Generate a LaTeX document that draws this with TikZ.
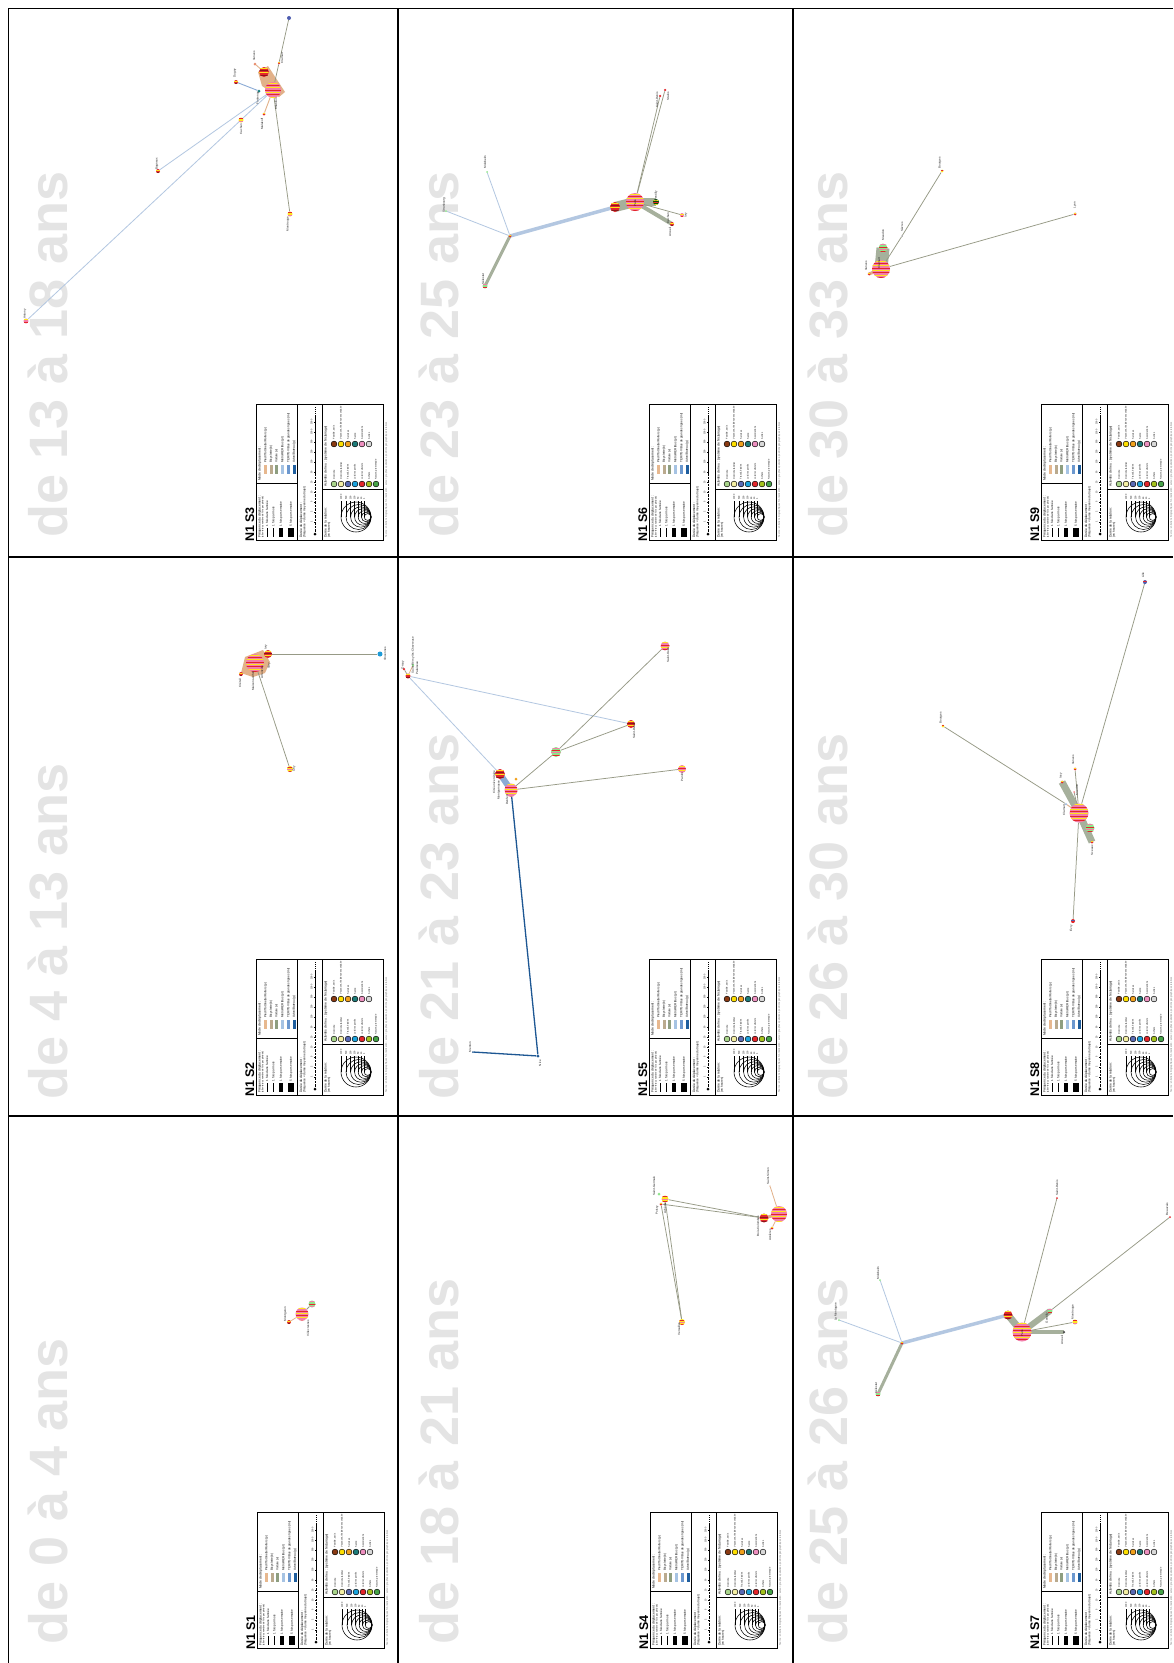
\documentclass[tikz,border=0pt]{standalone}
\usepackage{fontspec}
\setmainfont{Liberation Sans}
\usetikzlibrary{calc}
\pgfdeclarelayer{bg}
\pgfdeclarelayer{edges}
\pgfsetlayers{bg,edges,main}
\definecolor{ttl}{HTML}{E4E4E4}
\definecolor{npink}{HTML}{F27EA9}
\definecolor{nyellow}{HTML}{FFE61C}
\definecolor{nred}{HTML}{E3262B}
\definecolor{ngreen}{HTML}{8EE58B}
\definecolor{ncyan}{HTML}{1E9BD7}
\definecolor{nblue}{HTML}{4E5DB0}
\definecolor{nteal}{HTML}{1B8080}
\definecolor{eg}{HTML}{979A86}
\definecolor{ebandc}{HTML}{A6B09C}
\definecolor{eblue}{HTML}{B3C7E1}
\definecolor{eblue2}{HTML}{8AAAD5}
\definecolor{etan}{HTML}{E2B189}
\definecolor{edark}{HTML}{1D5793}
\definecolor{mA}{HTML}{E7B88F}
\definecolor{mB}{HTML}{BAAA8E}
\definecolor{mC}{HTML}{8E9E80}
\definecolor{mD}{HTML}{A6C3E3}
\definecolor{mE}{HTML}{6C98CF}
\definecolor{mF}{HTML}{1F5E9E}
\definecolor{aA}{HTML}{A9D58B}
\definecolor{aB}{HTML}{F4EFA3}
\definecolor{aC}{HTML}{5A6AB4}
\definecolor{aD}{HTML}{1BA3DC}
\definecolor{aE}{HTML}{E3262B}
\definecolor{aF}{HTML}{A4C21D}
\definecolor{aG}{HTML}{45A247}
\definecolor{bA}{HTML}{8A3A13}
\definecolor{bB}{HTML}{FFE000}
\definecolor{bC}{HTML}{F2A11C}
\definecolor{bD}{HTML}{1E7C79}
\definecolor{bE}{HTML}{EE90C0}
\definecolor{bF}{HTML}{D9D9D9}
\tikzset{
  snode/.style n args={4}{circle, inner sep=0pt, minimum size=#1, fill=#2,
    path picture={%
      \foreach \k in {0,...,9}{%
        \ifodd\k\relax\def\scol{#4}\else\def\scol{#3}\fi
        \fill[\scol] ([yshift=-\k*2.3pt-0.7pt]path picture bounding box.north west) rectangle ([yshift=-\k*2.3pt-1.6pt]path picture bounding box.north east);
      }}},
  big/.style={snode={#1}{npink}{nyellow}{nred}},
  rnode/.style={snode={#1}{nred}{nyellow}{nred!60!black}},
  gnode/.style={snode={#1}{ngreen}{npink}{nred}},
  ynode/.style={snode={#1}{nyellow}{nred}{npink}},
  dot/.style={circle, inner sep=0pt, minimum size=#1},
  ethin/.style={draw=eg, line width=0.75pt},
  elb/.style={draw=eblue, line width=0.8pt},
  eband/.style={draw=ebandc, line width=#1},
  eorange/.style={draw=etan, line width=#1},
  nlab/.style={rotate=90, inner sep=0pt, text=black!85, font=\fontsize{3}{3.5}\selectfont},
  ttlstyle/.style={rotate=90, inner sep=0pt, anchor=base west, text=ttl, font=\fontsize{54}{54}\selectfont\bfseries},
  gridl/.style={line width=1.8pt, black},
  lgl/.style={line width=0.8pt, black},
  nid/.style={rotate=90, inner sep=0pt, font=\fontsize{12.5}{13}\selectfont\bfseries},
  lth/.style={rotate=90, inner sep=0pt, font=\fontsize{3.3}{3.6}\selectfont},
  lt/.style={rotate=90, inner sep=0pt, font=\fontsize{3}{3.4}\selectfont},
  lts/.style={rotate=90, inner sep=0pt, font=\fontsize{2.3}{2.6}\selectfont},
}
\newcommand\legendbox[4]{%
\begin{scope}[shift={(#1,#2)}]
\draw[lgl] (0,0) rectangle (127.5,136);
\draw[lgl] (41,0) -- (41,136) (66,0) -- (66,136) (0,79) -- (41,79) (66,85) -- (127.5,85);
\node[nid, anchor=base west] (#4) at (-1.8,138) {#3};
% frequence
\node[lth, anchor=north west] (#4f) at (2,134) {Fréquence du déplacement :};
\node[lts, anchor=north west] (#4fb) at (5.6,134) {(aller-retour, nombre de fois par période)};
\fill (10.7,124) rectangle (11.3,133);
\fill (16.7,124) rectangle (18.3,133);
\fill (23.3,124) rectangle (26.7,133);
\fill (32.2,124) rectangle (37.8,133);
\node[lt, anchor=west] (#4f1) at (11,122.5) {1 fois dans l'année};
\node[lt, anchor=west] (#4f2) at (17.5,122.5) {1 fois par mois};
\node[lt, anchor=west] (#4f3) at (25,122.5) {1 fois par semaine};
\node[lt, anchor=west] (#4f4) at (35,122.5) {5 fois par semaine};
% mode
\node[lth, anchor=north west] (#4m) at (2,77) {Mode de déplacement :};
\fill[mA] (8,61) rectangle (11,70);
\fill[mB] (13.5,61) rectangle (16.5,70);
\fill[mC] (19,61) rectangle (22,70);
\fill[mD] (25,61) rectangle (28,70);
\fill[mE] (31,61) rectangle (34,70);
\fill[mF] (36.5,61) rectangle (39.5,70);
\node[lt, anchor=west] (#4m1) at (9.5,59) {Pied/Trottinette/Rollers (p)};
\node[lt, anchor=west] (#4m2) at (15,59) {Bicyclette (b)};
\node[lt, anchor=west] (#4m3) at (20.5,59) {Voiture (v)};
\node[lt, anchor=west] (#4m4) at (26.5,59) {Métro/RER/Bus (pt)};
\node[lt, anchor=west] (#4m5) at (32.5,59) {TER/TGV/Bus de grandes lignes (mt)};
\node[lt, anchor=west] (#4m6) at (38,59) {Avion/Bateau (g)};
% duree du deplacement
\node[lth, anchor=north west] (#4d) at (43.5,134) {Durée du déplacement :};
\node[lt, anchor=north west] (#4db) at (47,134) {(fréquence × durée moyenne du trajet)};
\draw[line width=1pt, dash pattern=on 0.6pt off 0.8pt] (59,128) -- (59,66);
\draw[line width=0.5pt] (59,66) -- (59,12);
\draw[line width=0.8pt, dash pattern=on 0.6pt off 1.6pt] (59,12) -- (59,3);
\fill (59,130) circle (1.5);
\foreach \yy/\v in {118/1,108/2,98/5,88/10,78/20,68/50,58/100,48/200,38/500,28/1000,18/2000}{%
  \draw[line width=0.3pt] (58,\yy) -- (60,\yy);
  \node[lts] at (55.5,\yy) {\v};}
% activites
\node[lth, anchor=north west] (#4a) at (68,83) {Activités de lieu : (système de l'éclairage)};
\foreach \i/\c in {0/aA,1/aB,2/aC,3/aD,4/aE,5/aF,6/aG}
  \filldraw[fill=\c, draw=black, line width=0.5pt] (78+7*\i,80) circle (2.9);
\foreach \i/\c in {0/bA,1/bB,2/bC,3/bD,4/bE,5/bF}
  \filldraw[fill=\c, draw=black, line width=0.5pt] (78+7*\i,40) circle (2.9);
\foreach \i/\t in {0/{Domicile},1/{Domicile familial},2/{Travail, études},3/{Loisirs sportifs},4/{Loisirs culturels},5/{Achats},6/{Nature, promenade}}
  \node[lts, anchor=west] at (78+7*\i,75.5) {\t};
\foreach \i/\t in {0/{Famille, amis},1/{Vacances, résidence secondaire},2/{Services},3/{Santé},4/{Associations},5/{Autres}}
  \node[lts, anchor=west] at (78+7*\i,35.5) {\t};
% duree de la relation
\node[lth, anchor=north west] (#4r) at (68,134) {Durée de la relation :};
\node[lt, anchor=north west] (#4rb) at (71.5,134) {(en heures)};
\foreach \r/\v in {15/1000,12.5/500,10.2/200,8.2/100,6.4/50,4.8/10,3.4/1}{%
  \draw[line width=0.55pt] (115-\r,113) circle (\r);
  \draw[line width=0.35pt] (115-2*\r,113) -- (115-2*\r,97);
  \node[lts, anchor=west] at (115-2*\r,96) {\v};}
% note
\node[lts, anchor=north west, text=black!60] (#4n) at (129,134) {Source : entretiens biographiques N1, réalisation : auteur ; graphes spatialisés, positions géographiques relatives};
\end{scope}}
\begin{document}
\begin{tikzpicture}[x=1pt,y=-1pt]
\useasboundingbox (0,0) rectangle (1173,1663);
% ---------------- titles
\begin{pgfonlayer}{bg}
\fill[white] (0,0) rectangle (1173,1663);
\node[ttlstyle] (t1) at (67.5,1645) {de 0 à 4 ans};
\node[ttlstyle] (t2) at (67.5,1100) {de 4 à 13 ans};
\node[ttlstyle] (t3) at (67.5,538) {de 13 à 18 ans};
\node[ttlstyle] (t4) at (458,1645) {de 18 à 21 ans};
\node[ttlstyle] (t5) at (458,1100) {de 21 à 23 ans};
\node[ttlstyle] (t6) at (458,538) {de 23 à 25 ans};
\node[ttlstyle] (t7) at (847,1645) {de 25 à 26 ans};
\node[ttlstyle] (t8) at (847,1100) {de 26 à 30 ans};
\node[ttlstyle] (t9) at (847,538) {de 30 à 33 ans};
\end{pgfonlayer}
% ---------------- legends
\legendbox{257}{1512}{N1 S1}{L1}
\legendbox{256}{959}{N1 S2}{L2}
\legendbox{256}{404}{N1 S3}{L3}
\legendbox{650}{1512}{N1 S4}{L4}
\legendbox{649}{959}{N1 S5}{L5}
\legendbox{649}{404}{N1 S6}{L6}
\legendbox{1041}{1512}{N1 S7}{L7}
\legendbox{1041}{959}{N1 S8}{L8}
\legendbox{1041}{404}{N1 S9}{L9}
% ================= S1
\node[big=13] (s1big) at (302,1314) {};
\node[rnode=4] (s1a) at (289,1322) {};
\node[gnode=7] (s1g) at (312,1304) {};
\node[nlab] (s1la) at (285.5,1314) {Montgeron};
\node[nlab] (s1lb) at (308,1328) {Villecresnes};
\begin{pgfonlayer}{edges}
\draw[eorange=0.7pt] (s1a) -- (s1big);
\draw[ethin] (s1big) -- (s1g);
\end{pgfonlayer}
% ================= S2
\node[big=18] (s2big) at (255,663) {};
\node[rnode=8] (s2r) at (268,654) {};
\node[rnode=4] (s2s) at (241,674) {};
\node[dot=5, fill=ncyan] (s2c) at (380,654) {};
\node[ynode=6] (s2b) at (290,769) {};
\node[nlab] (s2l1) at (240,683) {Créteil};
\node[nlab] (s2l2) at (253,681) {Maisons-Alfort};
\node[nlab] (s2l3) at (262,672) {Alfortville};
\node[nlab] (s2l4) at (269,666) {Vitry};
\node[nlab] (s2l5) at (266,647) {Ivry};
\node[nlab] (s2l6) at (385,654) {Vincennes};
\node[nlab] (s2l7) at (294,769) {Orly};
\begin{pgfonlayer}{edges}
\fill[etan] (241,673) -- (245,657) -- (263,650) -- (270,662) -- (265,673) -- (253,677) -- cycle;
\draw[ethin] (s2r) -- (s2c);
\draw[ethin] (s2big) -- (s2b);
\end{pgfonlayer}
% ================= S3
\node[big=16] (s3big) at (273,90) {};
\node[rnode=10] (s3r) at (264,72) {};
\node[dot=3, fill=nteal] (s3t) at (259,91) {};
\node[rnode=4] (s3d) at (236,82) {};
\node[dot=3, fill=etan!80!red] (s3v) at (255,64) {};
\node[rnode=3] (s3k) at (264,114) {};
\node[ynode=5] (s3c) at (241,120) {};
\node[ynode=5] (s3m) at (290,214) {};
\node[dot=4, fill=nblue] (s3p) at (289,18) {};
\node[rnode=4] (s3q) at (158,171) {};
\node[big=5] (s3f) at (26,321) {};
\node[rnode=2.5] (s3x) at (279,63) {};
\node[nlab] (s3l1) at (235,73) {Dugny};
\node[nlab] (s3l2) at (254,56) {Vanves};
\node[nlab] (s3l3) at (262,124) {Malakoff};
\node[nlab] (s3l4) at (241,129) {Cachan};
\node[nlab] (s3l5) at (288,224) {Montrouge};
\node[nlab] (s3l6) at (157,164) {Bagneux};
\node[nlab] (s3l7) at (25,314) {Antony};
\node[nlab] (s3l8) at (276,104) {Châtillon};
\node[nlab] (s3l9) at (258,98) {Fontenay};
\node[nlab] (s3l10) at (282,58) {Clamart};
\begin{pgfonlayer}{edges}
\fill[etan] (258,72) -- (268,66) -- (285,92) -- (279,97) -- (262,86) -- cycle;
\draw[ethin] (s3p) -- (s3x);
\draw[ethin] (s3x) -- (s3big);
\draw[ethin] (s3big) -- (s3m);
\draw[eblue2, line width=0.9pt] (s3d) -- (s3t);
\draw[eorange=0.9pt] (s3v) -- (s3r);
\draw[eorange=0.9pt] (s3big) -- (s3k);
\draw[elb] (s3big) -- (s3q);
\draw[elb] (s3big) -- (s3f);
\end{pgfonlayer}
% ================= S4
\node[ynode=7] (s4a) at (665,1199) {};
\node[dot=3, fill=ngreen] (s4g) at (659,1194) {};
\node[rnode=3] (s4s) at (661,1204) {};
\node[big=16] (s4big) at (779,1214) {};
\node[rnode=9] (s4r) at (764,1218) {};
\node[rnode=3] (s4k) at (772,1228) {};
\node[ynode=6] (s4b) at (682,1322) {};
\node[dot=1.5, fill=etan] (s4t) at (770,1186) {};
\node[nlab] (s4l1) at (654,1186) {Saint-Germain};
\node[nlab] (s4l2) at (657,1210) {Poissy};
\node[nlab] (s4l3) at (665,1208) {Achères};
\node[nlab] (s4l4) at (768,1176) {Saint-Simon};
\node[nlab] (s4l5) at (758,1226) {Bois-Colombes};
\node[nlab] (s4l6) at (770,1235) {Asnières};
\node[nlab] (s4l7) at (679,1329) {Versailles};
\begin{pgfonlayer}{edges}
\draw[ethin] (s4a) -- (s4r);
\draw[ethin] (s4s) -- (s4r);
\draw[ethin] (s4a) -- (s4b);
\draw[ethin] (s4s) -- (s4b);
\draw[eorange=3pt] (s4r.center) -- (s4big.center);
\draw[eorange=0.8pt] (s4t) -- (s4big);
\draw[eorange=0.8pt] (s4k) -- (s4big);
\end{pgfonlayer}
% ================= S5
\node[rnode=5] (s5o) at (408,676) {};
\node[dot=2.5, fill=nred] (s5o1) at (404,669) {};
\node[dot=2.5, fill=ngreen] (s5o2) at (413,665) {};
\node[rnode=10] (s5r) at (500,774) {};
\node[big=13] (s5big) at (511,790) {};
\node[dot=3, fill=bC] (s5o3) at (516,779) {};
\node[gnode=10] (s5g) at (556,752) {};
\node[rnode=8] (s5c) at (631,724) {};
\node[big=9] (s5t) at (665,646) {};
\node[big=8] (s5p) at (682,769) {};
\node[dot=3, fill=edark] (s5b) at (538,1056) {};
\node[dot=2, fill=edark] (s5l) at (473,1052) {};
\node[nlab] (s5l1) at (403,665) {Orsay};
\node[nlab] (s5l2) at (413,655) {Saint-Rémy-lès-Chevreuse};
\node[nlab] (s5l3) at (417,668) {Palaiseau};
\node[nlab] (s5l4) at (494,782) {Cité universitaire};
\node[nlab] (s5l5) at (499,790) {Montparnasse};
\node[nlab] (s5l6) at (507,800) {Denfert};
\node[nlab] (s5l7) at (634,731) {Saint-Denis};
\node[nlab] (s5l8) at (668,655) {Saint-Ouen};
\node[nlab] (s5l9) at (682,777) {Pantin};
\node[nlab] (s5l10) at (540,1063) {Nice};
\node[nlab] (s5l11) at (470,1047) {Menton};
\begin{pgfonlayer}{edges}
\draw[eorange=0.8pt] (s5o) -- (s5o2);
\draw[ethin] (s5o) -- (s5o1);
\draw[elb] (s5o) -- (s5r);
\draw[elb] (s5o) -- (s5c);
\draw[draw=eblue2, line width=6pt] (s5r.center) -- (s5big.center);
\draw[ethin] (s5big) -- (s5g);
\draw[ethin] (s5g) -- (s5t);
\draw[ethin] (s5g) -- (s5c);
\draw[ethin] (s5big) -- (s5p);
\draw[draw=edark, line width=1.3pt] (s5big) -- (s5b);
\draw[draw=edark, line width=1.3pt] (s5b) -- (s5l);
\end{pgfonlayer}
% ================= S6
\node[rnode=3] (s6h) at (510,236) {};
\node[dot=2, fill=ngreen] (s6w) at (446,211) {};
\node[dot=2, fill=ngreen] (s6n) at (487,172) {};
\node[gnode=5] (s6g) at (485,286) {};
\node[rnode=10] (s6r) at (615,207) {};
\node[big=18] (s6big) at (635,202) {};
\node[snode={6}{black!70!green}{nyellow}{nred}] (s6c) at (656,202) {};
\node[rnode=4] (s6k) at (672,224) {};
\node[big=4] (s6p) at (682,215) {};
\node[dot=2.5, fill=nred] (s6u1) at (660,96) {};
\node[dot=2.5, fill=nred] (s6u2) at (665,90) {};
\node[nlab] (s6l1) at (444,205) {Strasbourg};
\node[nlab] (s6l2) at (485,162) {Molsheim};
\node[nlab] (s6l3) at (483,279) {Sélestat};
\node[nlab] (s6l4) at (635,203) {Paris};
\node[nlab] (s6l5) at (656,196) {Gentilly};
\node[nlab] (s6l6) at (668,218) {Cachan};
\node[nlab] (s6l7) at (670,232) {Arcueil};
\node[nlab] (s6l8) at (686,215) {Ivry};
\node[nlab] (s6l9) at (657,100) {Saint-Denis};
\node[nlab] (s6l10) at (668,96) {Stains};
\begin{pgfonlayer}{edges}
\draw[draw=eblue, line width=3.5pt] (s6h.center) -- (s6r.center);
\draw[elb] (s6h) -- (s6w);
\draw[elb] (s6h) -- (s6n);
\draw[eband=3pt] (s6h.center) -- (s6g.center);
\draw[eband=10pt] (s6r.center) -- (s6big.center);
\draw[eband=8pt] (s6big.center) -- (s6c.center);
\draw[eband=4pt] (s6big.center) -- (s6k.center);
\draw[ethin] (s6big) -- (s6p);
\draw[ethin] (s6big) -- (s6u1);
\draw[ethin] (s6big) -- (s6u2);
\end{pgfonlayer}
% ================= S7
\node[rnode=3] (s7h) at (902,1343) {};
\node[dot=2, fill=ngreen] (s7w) at (839,1320) {};
\node[dot=2, fill=ngreen] (s7n) at (880,1280) {};
\node[gnode=5] (s7g) at (878,1394) {};
\node[rnode=9] (s7r) at (1008,1315) {};
\node[big=19] (s7big) at (1022,1332) {};
\node[gnode=5] (s7c) at (1050,1311) {};
\node[ynode=5] (s7p) at (1075,1322) {};
\node[dot=2.5, fill=black!70] (s7k) at (1064,1332) {};
\node[dot=2, fill=nred] (s7u) at (1057,1198) {};
\node[dot=2, fill=nred] (s7e) at (1170,1217) {};
\node[nlab] (s7l1) at (836,1312) {La Montagne};
\node[nlab] (s7l2) at (878,1273) {Molsheim};
\node[nlab] (s7l3) at (876,1388) {Sélestat};
\node[nlab] (s7l4) at (1022,1333) {Paris};
\node[nlab] (s7l5) at (1047,1318) {Gentilly};
\node[nlab] (s7l6) at (1062,1340) {Arcueil};
\node[nlab] (s7l7) at (1073,1312) {Montrouge};
\node[nlab] (s7l8) at (1057,1188) {Saint-Denis};
\node[nlab] (s7l9) at (1167,1209) {Beauvais};
\begin{pgfonlayer}{edges}
\draw[draw=eblue, line width=3.5pt] (s7h.center) -- (s7r.center);
\draw[elb] (s7h) -- (s7w);
\draw[elb] (s7h) -- (s7n);
\draw[eband=3pt] (s7h.center) -- (s7g.center);
\draw[eband=7pt] (s7r.center) -- (s7big.center);
\draw[eband=6pt] (s7big.center) -- (s7c.center);
\draw[eband=3.5pt] (s7big.center) -- (s7k.center);
\draw[ethin] (s7big) -- (s7p);
\draw[ethin] (s7big) -- (s7u);
\draw[ethin] (s7c) -- (s7e);
\end{pgfonlayer}
% ================= S8
\node[big=19] (s8big) at (1079,813) {};
\node[gnode=9] (s8r) at (1090,828) {};
\node[rnode=3] (s8d) at (1092,842) {};
\node[snode={4}{nblue}{nred}{nblue}] (s8t) at (1145,582) {};
\node[ynode=3] (s8l) at (943,726) {};
\node[rnode=3] (s8a) at (1075,769) {};
\node[rnode=3] (s8b) at (1062,782) {};
\node[snode={4}{nred}{nblue}{nred}] (s8e) at (1073,921) {};
\node[dot=2, fill=eblue2] (s8o) at (1066,804) {};
\node[dot=1.5, fill=nred] (s8f) at (1074,792) {};
\node[nlab] (s8l1) at (941,718) {Bourges};
\node[nlab] (s8l2) at (1073,760) {Vanves};
\node[nlab] (s8l3) at (1061,776) {Issy};
\node[nlab] (s8l4) at (1064,810) {Clamart};
\node[nlab] (s8l5) at (1077,790) {Meudon};
\node[nlab] (s8l6) at (1092,850) {Sceaux};
\node[nlab] (s8l7) at (1071,928) {Évry};
\node[nlab] (s8l8) at (1143,575) {Lille};
\begin{pgfonlayer}{edges}
\draw[eband=7pt] (s8b.center) -- (s8big.center);
\draw[eband=7pt] (s8big.center) -- (s8d.center);
\draw[ethin] (s8big) -- (s8t);
\draw[ethin] (s8l) -- (s8o);
\draw[eorange=1pt] (s8o) -- (s8big);
\draw[ethin] (s8big) -- (s8a);
\draw[ethin] (s8big) -- (s8f);
\draw[ethin] (s8big) -- (s8e);
\end{pgfonlayer}
% ================= S9
\node[big=18] (s9big) at (881,269) {};
\node[gnode=9] (s9g) at (883,248) {};
\node[rnode=3] (s9s) at (869,274) {};
\node[dot=1.5, fill=black!60] (s9m) at (902,236) {};
\node[ynode=3] (s9a) at (942,171) {};
\node[rnode=3] (s9b) at (1075,214) {};
\node[nlab] (s9l1) at (866,266) {Vanves};
\node[nlab] (s9l2) at (879,263) {Clamart};
\node[nlab] (s9l3) at (883,235) {Meudon};
\node[nlab] (s9l4) at (902,227) {Sèvres};
\node[nlab] (s9l5) at (940,163) {Bourges};
\node[nlab] (s9l6) at (1075,205) {Lyon};
\begin{pgfonlayer}{edges}
\draw[eband=13pt] (s9g.center) -- (s9big.center);
\draw[eorange=3pt] (s9s.center) -- (s9big.center);
\draw[ethin] (s9big) -- (s9m);
\draw[ethin] (s9m) -- (s9a);
\draw[ethin] (s9big) -- (s9b);
\end{pgfonlayer}
% ---------------- grid
\draw[gridl] (8.5,1663) -- (8.5,8.5) -- (1173,8.5);
\draw[gridl] (398,8.5) -- (398,1663);
\draw[gridl] (793,8.5) -- (793,1663);
\draw[gridl] (8.5,557) -- (1173,557);
\draw[gridl] (8.5,1116) -- (1173,1116);
\end{tikzpicture}
\end{document}
